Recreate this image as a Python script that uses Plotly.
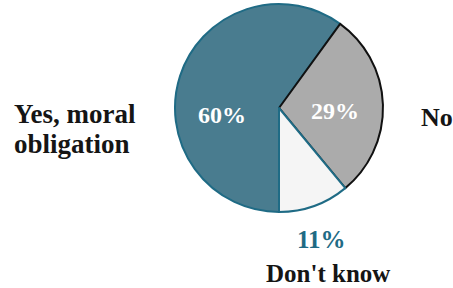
import plotly.graph_objects as go

labels = ["Yes, moral obligation", "No", "Don't know"]
values = [60, 29, 11]
slice_colors = ["#497c8f", "#ababab", "#f5f5f5"]
edge_colors = ["#1f6b85", "#111111", "#1f6b85"]

W, H = 453, 288
FONT = "Liberation Serif"

fig = go.Figure(go.Pie(
    labels=labels, values=values, sort=False, direction="clockwise", rotation=180,
    marker=dict(colors=slice_colors, line=dict(color=edge_colors, width=2)),
    textinfo="none", hoverinfo="label+percent", showlegend=False,
    domain=dict(x=[(279 - 104) / W, (279 + 104) / W], y=[1 - (108 + 104) / H, 1 - (108 - 104) / H]),
))

def px(x, y):
    return x / W, 1 - y / H

anns = []
pct = [f"{v}%" for v in values]
for txt, (x, y), col, size in [
    (pct[0], (222, 115), "white", 24),
    (pct[1], (335, 111), "white", 24),
    (pct[2], (321, 239), "#1f6b85", 25),
]:
    ax, ay = px(x, y)
    anns.append(dict(text=f"<b>{txt}</b>", x=ax, y=ay, xref="paper", yref="paper",
                     showarrow=False, xanchor="center", yanchor="middle",
                     font=dict(family=FONT, size=size, color=col)))

yes_lines = ["Yes, moral", "obligation"]
for line, y in zip(yes_lines, [114, 144]):
    lx, ly = px(12, y)
    anns.append(dict(text=f"<b>{line}</b>", x=lx, y=ly, xref="paper", yref="paper",
                     showarrow=False, xanchor="left", yanchor="middle",
                     font=dict(family=FONT, size=27, color="#151515")))
nx, ny = px(419, 117)
anns.append(dict(text=f"<b>{labels[1]}</b>", x=nx, y=ny, xref="paper", yref="paper",
                 showarrow=False, xanchor="left", yanchor="middle",
                 font=dict(family=FONT, size=26, color="#151515")))
dx, dy = px(328, 273)
anns.append(dict(text=f"<b>{labels[2]}</b>", x=dx, y=dy, xref="paper", yref="paper",
                 showarrow=False, xanchor="center", yanchor="middle",
                 font=dict(family=FONT, size=25, color="#151515")))

fig.update_layout(width=W, height=H, margin=dict(l=0, r=0, t=0, b=0),
                  paper_bgcolor="white", plot_bgcolor="white", annotations=anns)
fig.write_html("out.html", config={"displayModeBar": False},
               post_script="document.body.style.margin='0';document.body.style.overflow='hidden';")
